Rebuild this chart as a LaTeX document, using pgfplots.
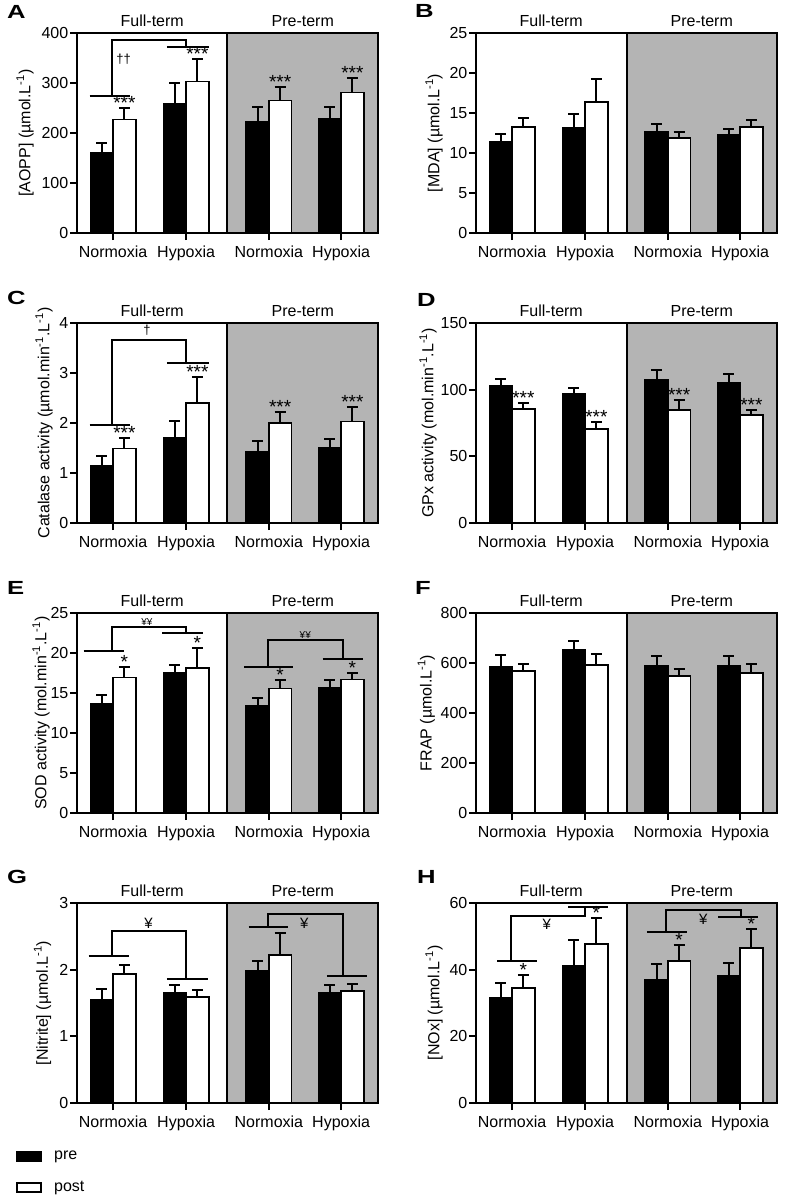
\documentclass[border=0pt]{standalone}
\usepackage{fontspec}
\setmainfont{Liberation Sans}
\newfontfamily\letterfont{Liberation Sans}[FakeStretch=1.35]
\usepackage{pgfplots}
\usepackage{pgfplotstable}
\pgfplotsset{compat=1.18}
\definecolor{ptgray}{RGB}{180,180,180}

% x = category position, pre/post = mean, pe/qe = upper SEM
\pgfplotstableread{
x    pre  pe   post  qe
0.48 160  20   227   23
1.45 259  41   303   46
2.55 222  31   265   27
3.51 228  25   281   29
}\tA
\pgfplotstableread{
x    pre   pe    post  qe
0.48 11.33 1.07  13.25 1.15
1.45 13.17 1.73  16.33 2.92
2.55 12.67 0.91  11.83 0.84
3.51 12.29 0.71  13.25 0.83
}\tB
\pgfplotstableread{
x    pre  pe   post qe
0.48 1.14 0.21 1.49 0.22
1.45 1.70 0.35 2.40 0.52
2.55 1.43 0.21 2.00 0.23
3.51 1.50 0.19 2.03 0.30
}\tC
\pgfplotstableread{
x    pre   pe  post qe
0.48 102.5 5.5 85.5 4.5
1.45 97.0  4.5 70.5 5.0
2.55 107.5 7.5 85.0 7.0
3.51 105.0 7.0 81.0 4.0
}\tD
\pgfplotstableread{
x    pre   pe   post  qe
0.48 13.62 1.12 16.94 1.33
1.45 17.52 1.04 18.15 2.49
2.55 13.37 1.04 15.57 1.04
3.51 15.70 0.87 16.69 0.83
}\tE
\pgfplotstableread{
x    pre pe post qe
0.48 584 49 567  29
1.45 651 38 592  45
2.55 587 40 549  27
3.51 587 40 560  37
}\tF
\pgfplotstableread{
x    pre   pe    post  qe
0.48 1.55  0.16  1.94  0.135
1.45 1.65  0.125 1.59  0.10
2.55 1.975 0.15  2.215 0.335
3.51 1.65  0.125 1.675 0.11
}\tG
\pgfplotstableread{
x    pre  pe  post qe
0.48 31.5 4.5 34.4 4.0
1.45 41.2 7.6 47.8 7.7
2.55 36.8 4.9 42.5 4.9
3.51 38.0 4.0 46.6 5.6
}\tH

\pgfplotsset{
  panel/.style={
    scale only axis, width=301pt, height=200pt,
    xmin=0, xmax=4, ymin=0,
    axis on top, clip=false,
    axis line style={line width=2pt},
    xtick={0.48,1.45,2.55,3.51},
    xticklabels={Normoxia,Hypoxia,Normoxia,Hypoxia},
    xtick pos=left, ytick pos=left,
    tick align=outside, major tick length=7pt,
    every tick/.style={black, line width=2pt},
    yticklabel style={inner xsep=1.5pt},
    /pgf/number format/assume math mode=true,
    ylabel style={anchor=south, inner sep=0pt},
  },
  ylab/.style={ylabel style={at={(axis description cs:#1,0.5)}}},
  prebar/.style={ybar, bar shift=0pt, bar width=0.3, fill=black, draw=black,
    line width=1.8pt,
    error bars/.cd, y dir=plus, y explicit,
    error bar style={line width=2pt, black},
    error mark options={rotate=90, line width=2pt, mark size=5.5pt, black}},
  postbar/.style={ybar, bar shift=0pt, bar width=0.3, fill=white, draw=black,
    line width=1.8pt,
    error bars/.cd, y dir=plus, y explicit,
    error bar style={line width=2pt, black},
    error mark options={rotate=90, line width=2pt, mark size=5.5pt, black}},
}
\tikzset{
  bk/.style={line width=2pt, black},
  st/.style={anchor=base, inner sep=0pt, yshift=-1.5pt, font=\fontsize{19}{19}\selectfont},
  sm/.style={inner sep=0pt, font=\fontsize{13}{13}\selectfont},
  lett/.style={anchor=north west, inner sep=0pt, font=\fontsize{19}{19}\selectfont\letterfont\bfseries},
}

\newcommand{\drawbars}[1]{%
  \fill[ptgray] (rel axis cs:0.5,0) rectangle (rel axis cs:1,1);
  \draw[line width=2pt] (rel axis cs:0.5,0) -- (rel axis cs:0.5,1);
  \addplot[prebar] table[x expr=\thisrow{x}-0.15, y=pre, y error=pe] {#1};
  \addplot[postbar] table[x expr=\thisrow{x}+0.15, y=post, y error=qe] {#1};
  \node[anchor=base, yshift=7pt] at (rel axis cs:0.25,1) {Full-term};
  \node[anchor=base, yshift=7pt] at (rel axis cs:0.75,1) {Pre-term};
}
% lower-left line, vertical up, across, down, lower-right line
\newcommand{\bracket}[9]{%
  \draw[bk] (axis cs:#1,#3) -- (axis cs:#2,#3);
  \draw[bk] (axis cs:#4,#3) |- (axis cs:#6,#5) -- (axis cs:#6,#7);
  \draw[bk] (axis cs:#8,#7) -- (axis cs:#9,#7);
}
\newcommand{\stars}[2]{%
  \pgfplotstablegetelem{0}{post}\of{#1}\let\va\pgfplotsretval
  \pgfplotstablegetelem{0}{qe}\of{#1}\let\ea\pgfplotsretval
  \pgfplotstablegetelem{1}{post}\of{#1}\let\vb\pgfplotsretval
  \pgfplotstablegetelem{1}{qe}\of{#1}\let\eb\pgfplotsretval
  \pgfplotstablegetelem{2}{post}\of{#1}\let\vc\pgfplotsretval
  \pgfplotstablegetelem{2}{qe}\of{#1}\let\ec\pgfplotsretval
  \pgfplotstablegetelem{3}{post}\of{#1}\let\vd\pgfplotsretval
  \pgfplotstablegetelem{3}{qe}\of{#1}\let\ed\pgfplotsretval
  \pgfmathsetmacro\ya{\va+\ea}\pgfmathsetmacro\yb{\vb+\eb}%
  \pgfmathsetmacro\yc{\vc+\ec}\pgfmathsetmacro\yd{\vd+\ed}%
  \node[st] at (axis cs:0.63,\ya) {#2};
  \node[st] at (axis cs:1.60,\yb) {#2};
  \node[st] at (axis cs:2.70,\yc) {#2};
  \node[st] at (axis cs:3.66,\yd) {#2};
}
\newcommand{\legbox}[1]{\addlegendimage{legend image code/.code={%
  \draw[fill=#1, line width=1.8pt] (0pt,-4.5pt) rectangle (24pt,4.5pt);
  \path (36pt,0pt);}}}

\begin{document}
\fontsize{16}{19}\selectfont
\begin{tikzpicture}
\path[use as bounding box] (0,0) rectangle (787pt,-1197pt);

% A
\begin{axis}[panel, ylab=-0.143, at={(77pt,-233pt)}, anchor=south west,
  ymax=400, ytick distance=100, ylabel={[AOPP] (µmol.L\textsuperscript{-1})}]
  \drawbars{\tA}
  \stars{\tA}{***}
  \bracket{0.168}{0.708}{274.7}{0.465}{386.7}{1.448}{373}{1.196}{1.749}
  \node[sm] at (axis cs:0.62,347) {††};
\end{axis}

% B
\begin{axis}[panel, ylab=-0.11, at={(476pt,-233pt)}, anchor=south west,
  ymax=25, ytick distance=5, ylabel={[MDA] (µmol.L\textsuperscript{-1})}]
  \drawbars{\tB}
\end{axis}

% C
\begin{axis}[panel, ylab=-0.08, at={(77pt,-523pt)}, anchor=south west,
  ymax=4, ytick distance=1,
  ylabel={Catalase activity (µmol.min\textsuperscript{-1}.L\textsuperscript{-1})}]
  \drawbars{\tC}
  \stars{\tC}{***}
  \bracket{0.168}{0.708}{1.97}{0.46}{3.67}{1.448}{3.2}{1.196}{1.749}
  \node[sm] at (axis cs:0.93,3.85) {†};
\end{axis}

% D
\begin{axis}[panel, ylab=-0.13, at={(476pt,-523pt)}, anchor=south west,
  ymax=150, ytick distance=50,
  ylabel={GPx activity (mol.min\textsuperscript{-1}.L\textsuperscript{-1})}]
  \drawbars{\tD}
  \stars{\tD}{***}
\end{axis}

% E
\begin{axis}[panel, ylab=-0.09, at={(77pt,-813pt)}, anchor=south west,
  ymax=25, ytick distance=5,
  ylabel={SOD activity (mol.min\textsuperscript{-1}.L\textsuperscript{-1})}]
  \drawbars{\tE}
  \stars{\tE}{*}
  \bracket{0.088}{0.628}{20.31}{0.46}{23.26}{1.448}{22.5}{1.13}{1.669}
  \bracket{2.223}{2.87}{18.23}{2.533}{21.68}{3.53}{19.27}{3.264}{3.796}
  \node[sm, font=\fontsize{10}{10}\selectfont] at (axis cs:0.93,23.9) {¥¥};
  \node[sm, font=\fontsize{10}{10}\selectfont] at (axis cs:3.034,22.3) {¥¥};
\end{axis}

% F
\begin{axis}[panel, ylab=-0.136, at={(476pt,-813pt)}, anchor=south west,
  ymax=800, ytick distance=200, ylabel={FRAP (µmol.L\textsuperscript{-1})}]
  \drawbars{\tF}
\end{axis}

% G
\begin{axis}[panel, ylab=-0.085, at={(77pt,-1103pt)}, anchor=south west,
  ymax=3, ytick distance=1, ylabel={[Nitrite] (µmol.L\textsuperscript{-1})},
  legend style={at={(axis description cs:-0.203,-0.235)}, anchor=north west,
    draw=none, fill=none, inner sep=0pt, row sep=17pt,
    nodes={inner sep=1pt}},
  legend cell align=left]
  \legbox{black}
  \addlegendentry{pre}
  \legbox{white}
  \addlegendentry{post}
  \drawbars{\tG}
  \bracket{0.155}{0.686}{2.2}{0.46}{2.575}{1.448}{1.86}{1.196}{1.736}
  \bracket{2.28}{2.81}{2.64}{2.533}{2.835}{3.53}{1.9}{3.32}{3.86}
  \node[sm, font=\fontsize{15}{15}\selectfont] at (axis cs:0.95,2.69) {¥};
  \node[sm, font=\fontsize{15}{15}\selectfont] at (axis cs:3.02,2.69) {¥};
\end{axis}

% H
\begin{axis}[panel, ylab=-0.11, at={(476pt,-1103pt)}, anchor=south west,
  ymax=60, ytick distance=20, ylabel={[NOx] (µmol.L\textsuperscript{-1})}]
  \drawbars{\tH}
  \stars{\tH}{*}
  \bracket{0.284}{0.807}{42.5}{0.461}{56.2}{1.449}{58.8}{1.228}{1.76}
  \bracket{2.27}{2.81}{51.2}{2.527}{57.8}{3.52}{55.7}{3.22}{3.75}
  \node[sm, font=\fontsize{15}{15}\selectfont] at (axis cs:0.94,53.5) {¥};
  \node[sm, font=\fontsize{15}{15}\selectfont] at (axis cs:3.02,55.2) {¥};
\end{axis}

\node[lett] at (7pt,-5pt) {A};
\node[lett] at (415pt,-4pt) {B};
\node[lett] at (7pt,-291pt) {C};
\node[lett] at (417pt,-293pt) {D};
\node[lett] at (7pt,-581pt) {E};
\node[lett] at (415pt,-581pt) {F};
\node[lett] at (7pt,-870pt) {G};
\node[lett] at (417pt,-870pt) {H};
\end{tikzpicture}
\end{document}
